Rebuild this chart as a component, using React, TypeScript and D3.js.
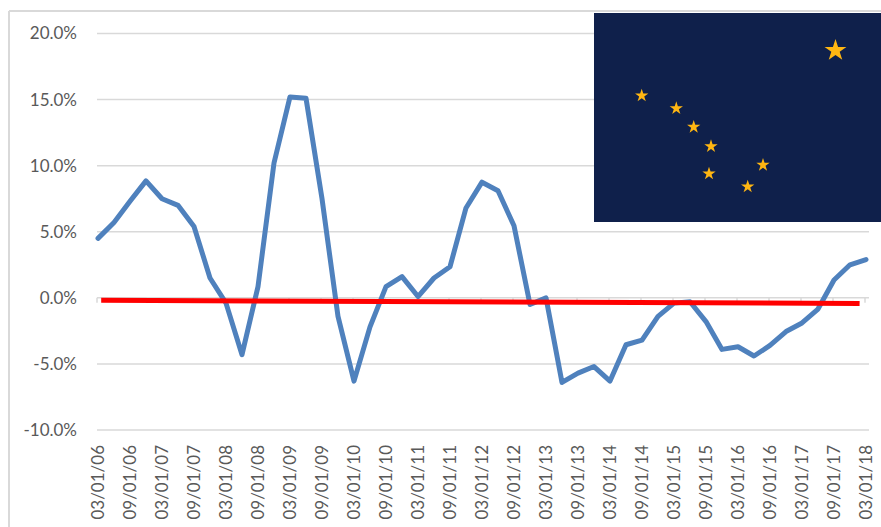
import React from "react";
import * as d3 from "d3";

const width = 881;
const height = 527;

// Quarterly year-on-year change, March 2006 to March 2018, in percent.
const changePct = [
  4.5, 5.7, 7.3, 8.85, 7.5, 7.0, 5.4, 1.5, -0.4, -4.3, 0.85, 10.2, 15.2, 15.1, 7.5, -1.4,
  -6.3, -2.2, 0.85, 1.6, 0.1, 1.5, 2.35, 6.8, 8.75, 8.1, 5.45, -0.5, 0.0, -6.4, -5.7, -5.2,
  -6.3, -3.55, -3.2, -1.4, -0.4, -0.3, -1.8, -3.9, -3.7, -4.4, -3.6, -2.55, -1.9, -0.85,
  1.35, 2.5, 2.9,
];

const dateLabels = [
  "03/01/06", "09/01/06", "03/01/07", "09/01/07", "03/01/08", "09/01/08", "03/01/09",
  "09/01/09", "03/01/10", "09/01/10", "03/01/11", "09/01/11", "03/01/12", "09/01/12",
  "03/01/13", "09/01/13", "03/01/14", "09/01/14", "03/01/15", "09/01/15", "03/01/16",
  "09/01/16", "03/01/17", "09/01/17", "03/01/18",
];

const yTicks = [20, 15, 10, 5, 0, -5, -10];
const yTickLabels = ["20.0%", "15.0%", "10.0%", "5.0%", "0.0%", "-5.0%", "-10.0%"];

// Linear trend through the series, given as [quarter index, percent].
const trendEnds: [number, number][] = [
  [0.2, -0.18],
  [47.6, -0.43],
];

// Seven small stars of the Dipper plus the North Star, in inset pixels.
const flagStars = [
  { x: 241.5, y: 37.5, r: 11.5 },
  { x: 47.7, y: 82.7, r: 7 },
  { x: 82.3, y: 95.3, r: 7 },
  { x: 99.7, y: 114, r: 7 },
  { x: 117, y: 133.3, r: 7 },
  { x: 115, y: 160.7, r: 7 },
  { x: 153.7, y: 173.7, r: 7 },
  { x: 169, y: 152, r: 7 },
];

const font = "Lato, Carlito, sans-serif";
const textColor = "#595959";
const gridColor = "#d9d9d9";

function App() {
  const x = d3.scaleLinear().domain([0, 48]).range([98, 866]);
  const y = d3.scaleLinear().domain([-10, 20]).range([430, 33.5]);

  const line = d3
    .line<number>()
    .x((_, i) => x(i))
    .y((d) => y(d))
    .curve(d3.curveLinear);

  const trend = d3
    .line<[number, number]>()
    .x((d) => x(d[0]))
    .y((d) => y(d[1]));

  const star = d3.symbol().type(d3.symbolStar);

  return (
    <svg
      width={width}
      height={height}
      viewBox={`0 0 ${width} ${height}`}
      style={{ position: "absolute", left: 0, top: 0, background: "#fff" }}
    >
      {/* chart frame: only top and left edges fall inside the crop */}
      <line x1={9} x2={881} y1={11} y2={11} stroke={gridColor} strokeWidth={2} />
      <line x1={9} x2={9} y1={11} y2={527} stroke={gridColor} strokeWidth={2} />

      {yTicks.map((t, i) => (
        <g key={t}>
          <line x1={97} x2={869} y1={y(t)} y2={y(t)} stroke={gridColor} strokeWidth={1.5} />
          <text
            x={77}
            y={y(t)}
            dy="0.35em"
            textAnchor="end"
            fontFamily={font}
            fontSize={17}
            fill={textColor}
          >
            {yTickLabels[i]}
          </text>
        </g>
      ))}

      {dateLabels.map((label, i) => (
        <g key={label} transform={`translate(${x(i * 2)},0)`}>
          <line y1={y(0)} y2={y(0) + 5} x1={-1} x2={-1} stroke={gridColor} strokeWidth={1.5} />
          <text
            transform="translate(6,445) rotate(-90)"
            textAnchor="end"
            fontFamily={font}
            fontSize={17}
            fill={textColor}
          >
            {label}
          </text>
        </g>
      ))}

      <path
        d={line(changePct) ?? ""}
        fill="none"
        stroke="#4f81bd"
        strokeWidth={5}
        strokeLinejoin="round"
        strokeLinecap="round"
      />
      <path d={trend(trendEnds) ?? ""} fill="none" stroke="#ff0000" strokeWidth={5} />

      {/* Alaska flag inset */}
      <g transform="translate(594,13)">
        <rect width={287} height={209} fill="#0f204b" />
        {flagStars.map((s, i) => (
          <path
            key={i}
            transform={`translate(${s.x},${s.y})`}
            d={star.size((s.r * s.r) / 0.8908)() ?? ""}
            fill="#ffb612"
          />
        ))}
      </g>
    </svg>
  );
}

export default App;
